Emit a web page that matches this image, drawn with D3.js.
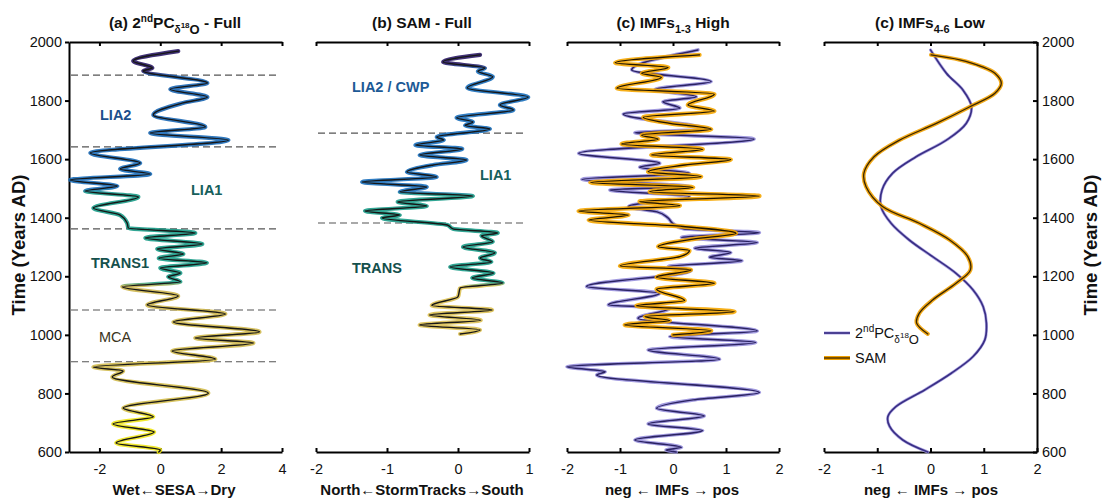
<!DOCTYPE html>
<html><head><meta charset="utf-8">
<script src="https://cdn.jsdelivr.net/npm/d3@7"></script>
<style>body{margin:0;background:#fff}svg{font-family:"Liberation Sans",Arial,sans-serif}</style>
</head><body><svg id="c" width="1104" height="499"></svg>
<script>
// ---------- DATA ----------
const yearTicks = [600, 800, 1000, 1200, 1400, 1600, 1800, 2000];
const ticksA = [-2, 0, 2, 4];
const ticksB = [-2, -1, 0, 1];
const ticksC = [-2, -1, 0, 1, 2];

// (a) 2nd PC d18O full
const pcYears = [1969,1935,1911,1901,1860,1839,1812,1792,1751,1710,1689,1665,1621,1587,1566,1549,1529,1508,1491,1471,1433,1409,1382,1365,1348,1331,1310,1293,1276,1262,1246,1228,1211,1198,1181,1164,1133,1102,1071,1044,1010,989,972,945,917,890,877,856,801,750,720,696,668,631,607,600];
const pcValues = [0.59,-0.89,-0.26,-0.56,1.55,0.33,1.55,0.75,-0.23,1.48,-0.33,2.24,-2.3,-0.66,-1.32,-0.33,-2.96,-1.41,-2.47,-0.72,-2.2,-1.32,-1.09,-1.05,1.15,-0.49,1.38,-0.1,0.76,-0.05,1.53,0.0,0.66,0.26,0.66,-1.25,0.59,-0.43,2.14,0.43,3.26,1.15,3.06,0.39,1.81,-2.2,-1.22,-1.58,1.58,-1.22,-0.23,-1.55,-0.2,-1.45,0.0,-0.05];

// (b) SAM full
const samYears = [1956,1932,1911,1900,1881,1843,1812,1785,1768,1741,1727,1715,1703,1676,1665,1648,1635,1614,1597,1580,1556,1539,1522,1505,1488,1474,1454,1440,1423,1409,1399,1375,1362,1348,1338,1318,1300,1280,1262,1249,1232,1211,1194,1177,1160,1130,1100,1085,1068,1050,1034,1017,1003];
const samValues = [0.31,-0.21,0.38,0.28,0.49,0.13,0.99,0.59,0.78,-0.02,0.21,0.1,0.45,-0.3,-0.2,-0.6,0.06,-0.54,0.12,-0.35,-0.72,-0.3,-1.35,-0.44,-0.82,0.21,-0.85,-0.44,-1.31,-0.82,-1.07,-0.15,-0.07,0.56,0.33,0.49,0.07,0.52,0.31,0.47,-0.11,0.5,0.2,0.63,0.03,0.0,-0.37,0.48,-0.4,0.32,-0.54,0.31,0.03];

// (c) IMFs 1-3 high
const highPcYears = [1973,1904,1865,1838,1813,1796,1774,1754,1702,1690,1669,1620,1586,1572,1552,1531,1506,1495,1472,1438,1420,1400,1380,1362,1349,1333,1315,1296,1281,1265,1253,1233,1219,1165,1142,1102,1091,1057,1013,994,974,948,917,891,874,863,803,778,749,723,696,673,641,616,607,600];
const highPcValues = [0.47,-0.78,0.72,-0.34,0.44,-0.19,0.13,-0.94,0.63,-0.72,1.53,-1.78,-0.25,-0.63,0.31,-1.72,0.31,-1.19,0.31,-0.84,-0.3,-0.1,0.0,0.2,1.63,0.16,1.59,0.41,1.09,0.69,1.3,-0.09,0.34,-1.63,-0.25,-1.22,-0.06,-0.66,1.59,-0.06,1.56,-0.47,0.88,-2.0,-1.28,-1.44,1.63,0.38,-0.31,0.59,-0.47,0.56,-0.72,0.16,-0.13,0.06];
const highSamYears = [1956,1929,1913,1893,1879,1842,1822,1785,1764,1743,1722,1702,1682,1668,1652,1634,1614,1599,1580,1557,1540,1520,1504,1489,1474,1455,1441,1423,1409,1392,1370,1347,1327,1301,1288,1267,1235,1222,1197,1176,1156,1117,1099,1079,1062,1049,1034,1014,1000];
const highSamValues = [0.5,-1.09,-0.09,-0.59,-0.22,-1.06,0.78,0.28,0.78,-0.56,-0.06,0.72,-0.59,-0.28,-0.97,0.56,-0.41,1.09,0.22,-0.47,0.53,-1.56,0.38,-0.44,1.63,-0.63,0.13,-1.78,-0.84,-1.59,0.19,1.19,0.38,-0.28,0.31,0.13,-1.0,0.34,-0.31,0.78,-0.31,0.22,-0.69,1.16,-0.53,-0.06,-0.91,0.72,0.0];

// (d) IMFs 4-6 low
const lowPcYears = [1973,1893,1836,1779,1722,1665,1608,1552,1495,1438,1381,1324,1267,1210,1153,1096,1040,983,926,869,812,755,721,688,641,600];
const lowPcValues = [0.0,0.3,0.61,0.77,0.67,0.3,-0.27,-0.71,-0.91,-0.93,-0.74,-0.4,0.04,0.48,0.8,0.99,1.05,1.02,0.8,0.39,-0.11,-0.65,-0.8,-0.77,-0.52,-0.05];
const lowSamYears = [1956,1939,1916,1893,1859,1825,1779,1722,1665,1608,1552,1506,1438,1381,1324,1267,1222,1176,1119,1074,1040,1003];
const lowSamValues = [0.01,0.55,0.96,1.21,1.33,1.21,0.74,0.11,-0.58,-1.06,-1.25,-1.21,-0.9,-0.21,0.36,0.7,0.75,0.48,0.04,-0.21,-0.26,-0.05];

// Period boundaries (years) and labels
const boundsA = [1887, 1642, 1362, 1085, 908];
const boundsB = [1689, 1382];
const labelsA = ["LIA2", "LIA1", "TRANS1", "MCA"];
const labelsB = ["LIA2 / CWP", "LIA1", "TRANS"];
const legendNames = ["PC", "SAM"];

// ---------- DRAW ----------
const svg = d3.select("#c");
const defs = svg.append("defs");
const y = d3.scaleLinear().domain([600, 2000]).range([452, 42]);
const zip = (ys, vs) => ys.map((yr, i) => ({yr, v: vs[i]}));

const panels = [
  {r: [69, 282], d: [-3, 4], t: ticksA},
  {r: [316, 529], d: [-2, 1], t: ticksB},
  {r: [567, 779], d: [-2, 2], t: ticksC},
  {r: [824, 1037], d: [-2, 2], t: ticksC}
];
panels.forEach(p => p.x = d3.scaleLinear().domain(p.d).range(p.r));

function styleAxis(g, tickW) {
  g.select(".domain").attr("stroke", "#000").attr("stroke-width", 2);
  g.selectAll(".tick line").attr("stroke", "#000").attr("stroke-width", tickW);
  g.selectAll(".tick text").attr("font-size", 14.5).attr("fill", "#111").attr("font-family", "Liberation Sans, Arial, sans-serif");
}

panels.forEach(p => {
  const gb = svg.append("g").attr("transform", "translate(0,452)")
    .call(d3.axisBottom(p.x).tickValues(p.t).tickSize(-4).tickSizeOuter(0).tickPadding(12).tickFormat(d => d < 0 ? "-" + Math.abs(d) : String(d)));
  styleAxis(gb, 2);
  const gt = svg.append("g").attr("transform", "translate(0,42)")
    .call(d3.axisTop(p.x).tickValues(p.t).tickSize(-4).tickSizeOuter(0).tickFormat(""));
  styleAxis(gt, 2);
});
// left axis panel a
const gl = svg.append("g").attr("transform", "translate(69,0)")
  .call(d3.axisLeft(y).tickValues(yearTicks).tickSize(4).tickSizeOuter(0).tickPadding(3).tickFormat(d3.format("d")));
styleAxis(gl, 2);
// right axis panel d
const gr = svg.append("g").attr("transform", "translate(1037,0)")
  .call(d3.axisRight(y).tickValues(yearTicks).tickSize(-4).tickSizeOuter(0).tickPadding(5).tickFormat(d3.format("d")));
styleAxis(gr, 2);

// dashed period lines
function dashed(p, yrs) {
  svg.append("g").selectAll("line").data(yrs).join("line")
    .attr("x1", p.r[0] + 2).attr("x2", p.r[1] - 2)
    .attr("y1", d => y(d)).attr("y2", d => y(d))
    .attr("stroke", "#555").attr("stroke-width", 1.1).attr("stroke-dasharray", "7,4");
}
dashed(panels[0], boundsA);
dashed(panels[1], boundsB);

// gradients
function grad(id, stops) {
  const g = defs.append("linearGradient").attr("id", id).attr("gradientUnits", "userSpaceOnUse")
    .attr("x1", 0).attr("x2", 0).attr("y1", y(2000)).attr("y2", y(600));
  stops.forEach(s => g.append("stop").attr("offset", (2000 - s[0]) / 1400).attr("stop-color", s[1]));
}
grad("gA", [[2000,"#2b1a66"],[1900,"#2b1a66"],[1884,"#1a63b0"],[1500,"#1a6fbc"],[1484,"#1a9c88"],[1180,"#1a9c88"],[1166,"#cdb54e"],[740,"#d3bd4c"],[722,"#efe61a"],[600,"#efe61a"]]);
grad("gB", [[2000,"#2b1a66"],[1925,"#2b1a66"],[1905,"#1a6fbc"],[1490,"#1a6fbc"],[1478,"#1a9c88"],[1180,"#1a9c88"],[1166,"#dcc052"],[600,"#dcc052"]]);

function series(p, data, halo, haloW, core, coreW, curve) {
  const line = d3.line().x(d => p.x(d.v)).y(d => y(d.yr)).curve(curve || d3.curveMonotoneY);
  const g = svg.append("g").attr("fill", "none").attr("stroke-linejoin", "round").attr("stroke-linecap", "round");
  g.append("path").datum(data).attr("d", line).attr("stroke", halo).attr("stroke-width", haloW).attr("opacity", 0.9);
  g.append("path").datum(data).attr("d", line).attr("stroke", core).attr("stroke-width", coreW);
}
series(panels[0], zip(pcYears, pcValues), "url(#gA)", 4.2, "#161616", 1.4);
series(panels[1], zip(samYears, samValues), "url(#gB)", 4.2, "#161616", 1.4);
series(panels[2], zip(highPcYears, highPcValues), "#9890dc", 3.6, "#2a2262", 1.5);
series(panels[2], zip(highSamYears, highSamValues), "#f5a600", 4.4, "#1e1400", 1.3);
series(panels[3], zip(lowPcYears, lowPcValues), "#aaa2e2", 3.0, "#3a2f85", 1.7, d3.curveCatmullRom);
series(panels[3], zip(lowSamYears, lowSamValues), "#f0a000", 4, "#3a2600", 1.3, d3.curveCatmullRom);

// period labels
const lab = (x, yy, t, c, w) => svg.append("text").attr("x", x).attr("y", yy).attr("font-size", 14.5)
  .attr("font-weight", w || "bold").attr("fill", c).text(t);
lab(100, 120, labelsA[0], "#1d4f8c");
lab(191, 195, labelsA[1], "#17605c");
lab(91, 268, labelsA[2], "#15504c");
lab(99, 342, labelsA[3], "#3b3420", "normal");
lab(352, 92, labelsB[0], "#1d5a96");
lab(480, 180, labelsB[1], "#17605c");
lab(352, 273, labelsB[2], "#15504c");

// titles
function rich(x, yy, parts, size, weight, anchor) {
  const t = svg.append("text").attr("x", x).attr("y", yy).attr("text-anchor", anchor || "middle")
    .attr("font-weight", weight).attr("font-size", size).attr("fill", "#111");
  parts.forEach(pt => t.append("tspan").attr("dy", pt[1] || 0).attr("font-size", pt[2] || size).text(pt[0]));
  return t;
}
rich(175, 28, [["(a) 2"],["nd",-6,10],["PC",6],["δ",5,10],["18",-5,8],["O",6,13],[" - Full",-6]], 15.5, "bold");
rich(422, 28, [["(b) SAM - Full"]], 15.5, "bold");
rich(673, 28, [["(c) IMFs"],["1-3",5,11],[" High",-5]], 15.5, "bold");
rich(930, 28, [["(c) IMFs"],["4-6",5,11],[" Low",-5]], 15.5, "bold");

// x labels
rich(174, 495, [["Wet←SESA→Dry"]], 15, "bold");
rich(422, 495, [["North←StormTracks→South"]], 15, "bold");
rich(672, 495, [["neg ← IMFs → pos"]], 15, "bold");
rich(931, 495, [["neg ← IMFs → pos"]], 15, "bold");

// y labels
svg.append("text").attr("transform", "translate(25,245) rotate(-90)").attr("text-anchor", "middle")
  .attr("font-weight", "bold").attr("font-size", 18.5).attr("fill", "#111").text("Time (Years AD)");
svg.append("text").attr("transform", "translate(1097,245) rotate(-90)").attr("text-anchor", "middle")
  .attr("font-weight", "bold").attr("font-size", 18.5).attr("fill", "#111").text("Time (Years AD)");

// legend (panel d)
const lg = svg.append("g");
lg.append("line").attr("x1", 824).attr("x2", 850).attr("y1", 333).attr("y2", 333).attr("stroke", "#aaa2e2").attr("stroke-width", 3.0);
lg.append("line").attr("x1", 824).attr("x2", 850).attr("y1", 333).attr("y2", 333).attr("stroke", "#3a2f85").attr("stroke-width", 1.7);
lg.append("line").attr("x1", 824).attr("x2", 850).attr("y1", 358).attr("y2", 358).attr("stroke", "#f0a000").attr("stroke-width", 4);
lg.append("line").attr("x1", 824).attr("x2", 850).attr("y1", 358).attr("y2", 358).attr("stroke", "#3a2600").attr("stroke-width", 1.3);
rich(855, 338, [["2"],["nd",-6,10],[legendNames[0],6],["δ",5,10],["18",-5,8],["O",6,13]], 14.5, "normal", "start");
rich(855, 363, [[legendNames[1]]], 14.5, "normal", "start");
</script></body></html>
